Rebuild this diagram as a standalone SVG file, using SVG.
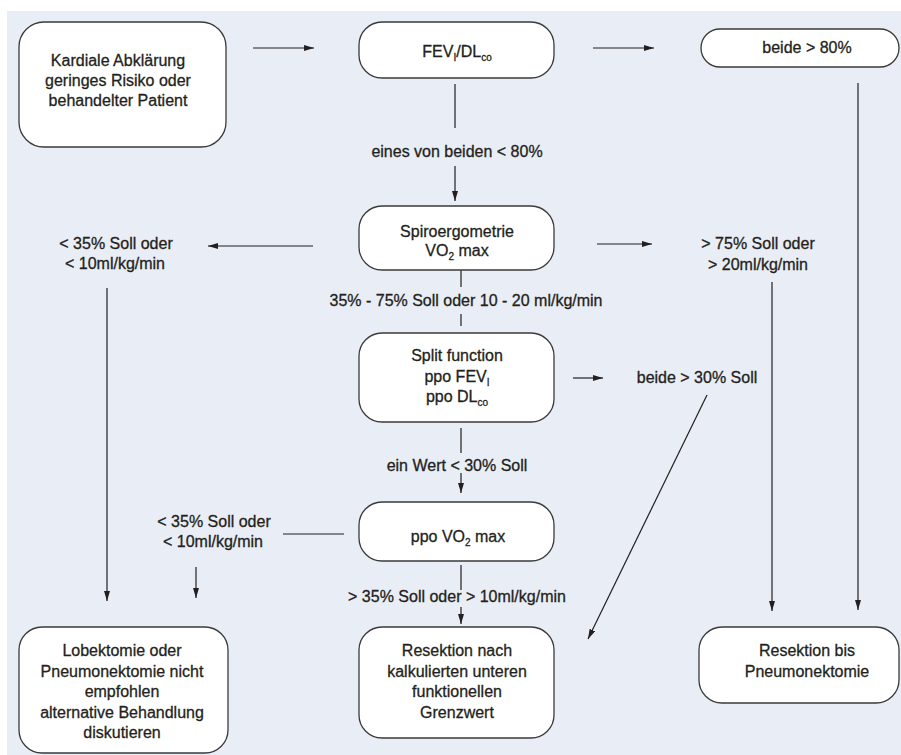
<svg xmlns="http://www.w3.org/2000/svg" width="901" height="755" viewBox="0 0 901 755">
<style>
.box{fill:#ffffff;stroke:#3a3a3a;stroke-width:1.3}
.t{font-family:"Liberation Sans",Arial,sans-serif;font-size:16px;fill:#231f20;stroke:#231f20;stroke-width:0.3;text-anchor:middle}
.s{font-size:10px}
.c{stroke:#231f20;stroke-width:1.2;fill:none}
.a{marker-end:url(#ah)}
</style>
<defs>
<marker id="ah" markerUnits="userSpaceOnUse" markerWidth="10" markerHeight="6" refX="10" refY="3" orient="auto">
<path d="M0,0 L10,3 L0,6 z" fill="#231f20"/>
</marker>
</defs>
<rect x="0" y="0" width="901" height="755" fill="#ffffff"/>
<rect x="7" y="11" width="894" height="744" fill="#e9edf5"/>

<g id="connectors">
<line class="c a" x1="253" y1="48" x2="314" y2="48"/>
<line class="c a" x1="593" y1="48" x2="654" y2="48"/>
<line class="c a" x1="858" y1="83" x2="858" y2="610"/>
<line class="c" x1="455" y1="84" x2="455" y2="128"/>
<line class="c a" x1="455" y1="166" x2="455" y2="201"/>
<line class="c a" x1="313" y1="246" x2="208" y2="246"/>
<line class="c a" x1="107" y1="288" x2="107" y2="601"/>
<line class="c a" x1="597" y1="244" x2="652" y2="244"/>
<line class="c a" x1="772" y1="282" x2="772" y2="611"/>
<line class="c" x1="461" y1="270" x2="461" y2="287"/>
<line class="c" x1="461" y1="314" x2="461" y2="326"/>
<line class="c a" x1="573" y1="378" x2="603" y2="378"/>
<line class="c a" x1="707" y1="395" x2="588" y2="639"/>
<line class="c" x1="461" y1="428" x2="461" y2="453"/>
<line class="c a" x1="461" y1="473" x2="461" y2="493"/>
<line class="c" x1="344" y1="534" x2="283" y2="534"/>
<line class="c a" x1="196" y1="567" x2="196" y2="598"/>
<line class="c" x1="461" y1="565" x2="461" y2="590"/>
<line class="c a" x1="461" y1="607" x2="461" y2="624"/>
</g>

<g id="n_kardial">
<rect class="box" x="19" y="22" width="207" height="125" rx="25"/>
<text class="t" x="118" y="66">Kardiale Abklärung</text>
<text class="t" x="118" y="86">geringes Risiko oder</text>
<text class="t" x="118" y="106">behandelter Patient</text>
</g>

<g id="n_fev">
<rect class="box" x="359" y="22" width="195" height="56" rx="23"/>
<text class="t" x="457" y="57">FEV<tspan class="s" dy="4">I</tspan><tspan dy="-4">/DL</tspan><tspan class="s" dy="4">co</tspan></text>
</g>

<g id="n_beide80">
<rect class="box" x="701" y="29" width="198" height="38" rx="19"/>
<text class="t" x="807" y="53">beide &gt; 80%</text>
</g>

<g id="l_eines">
<text class="t" x="457" y="157">eines von beiden &lt; 80%</text>
</g>

<g id="n_spiro">
<rect class="box" x="359" y="206" width="195" height="64" rx="23"/>
<text class="t" x="457" y="237">Spiroergometrie</text>
<text class="t" x="457" y="256">VO<tspan class="s" dy="4">2</tspan><tspan dy="-4"> max</tspan></text>
</g>

<g id="n_lt35a">
<text class="t" x="116" y="249">&lt; 35% Soll oder</text>
<text class="t" x="115" y="269">&lt; 10ml/kg/min</text>
</g>

<g id="n_gt75">
<text class="t" x="758" y="249">&gt; 75% Soll oder</text>
<text class="t" x="758" y="270">&gt; 20ml/kg/min</text>
</g>

<g id="l_35_75">
<text class="t" x="466" y="306">35% - 75% Soll oder 10 - 20 ml/kg/min</text>
</g>

<g id="n_split">
<rect class="box" x="359" y="333" width="195" height="89" rx="23"/>
<text class="t" x="457" y="361">Split function</text>
<text class="t" x="457" y="382">ppo FEV<tspan class="s" dy="4">I</tspan></text>
<text class="t" x="457" y="402">ppo DL<tspan class="s" dy="4">co</tspan></text>
</g>

<g id="n_beide30">
<text class="t" x="697" y="383">beide &gt; 30% Soll</text>
</g>

<g id="l_einwert">
<text class="t" x="457" y="471">ein Wert &lt; 30% Soll</text>
</g>

<g id="n_ppovo2">
<rect class="box" x="359" y="502" width="195" height="59" rx="23"/>
<text class="t" x="458" y="542">ppo VO<tspan class="s" dy="4">2</tspan><tspan dy="-4"> max</tspan></text>
</g>

<g id="n_lt35b">
<text class="t" x="214" y="527">&lt; 35% Soll oder</text>
<text class="t" x="213" y="547">&lt; 10ml/kg/min</text>
</g>

<g id="l_gt35">
<text class="t" x="457" y="602">&gt; 35% Soll oder &gt; 10ml/kg/min</text>
</g>

<g id="n_lobektomie">
<rect class="box" x="19" y="627" width="209" height="126" rx="23"/>
<text class="t" x="122" y="656">Lobektomie oder</text>
<text class="t" x="122" y="677">Pneumonektomie nicht</text>
<text class="t" x="122" y="697">empfohlen</text>
<text class="t" x="122" y="718">alternative Behandlung</text>
<text class="t" x="122" y="738">diskutieren</text>
</g>

<g id="n_resektion_nach">
<rect class="box" x="359" y="627" width="195" height="111" rx="23"/>
<text class="t" x="457" y="656">Resektion nach</text>
<text class="t" x="457" y="677">kalkulierten unteren</text>
<text class="t" x="457" y="697">funktionellen</text>
<text class="t" x="457" y="718">Grenzwert</text>
</g>

<g id="n_resektion_bis">
<rect class="box" x="699" y="627" width="200" height="76" rx="23"/>
<text class="t" x="807" y="656">Resektion bis</text>
<text class="t" x="807" y="677">Pneumonektomie</text>
</g>
</svg>
